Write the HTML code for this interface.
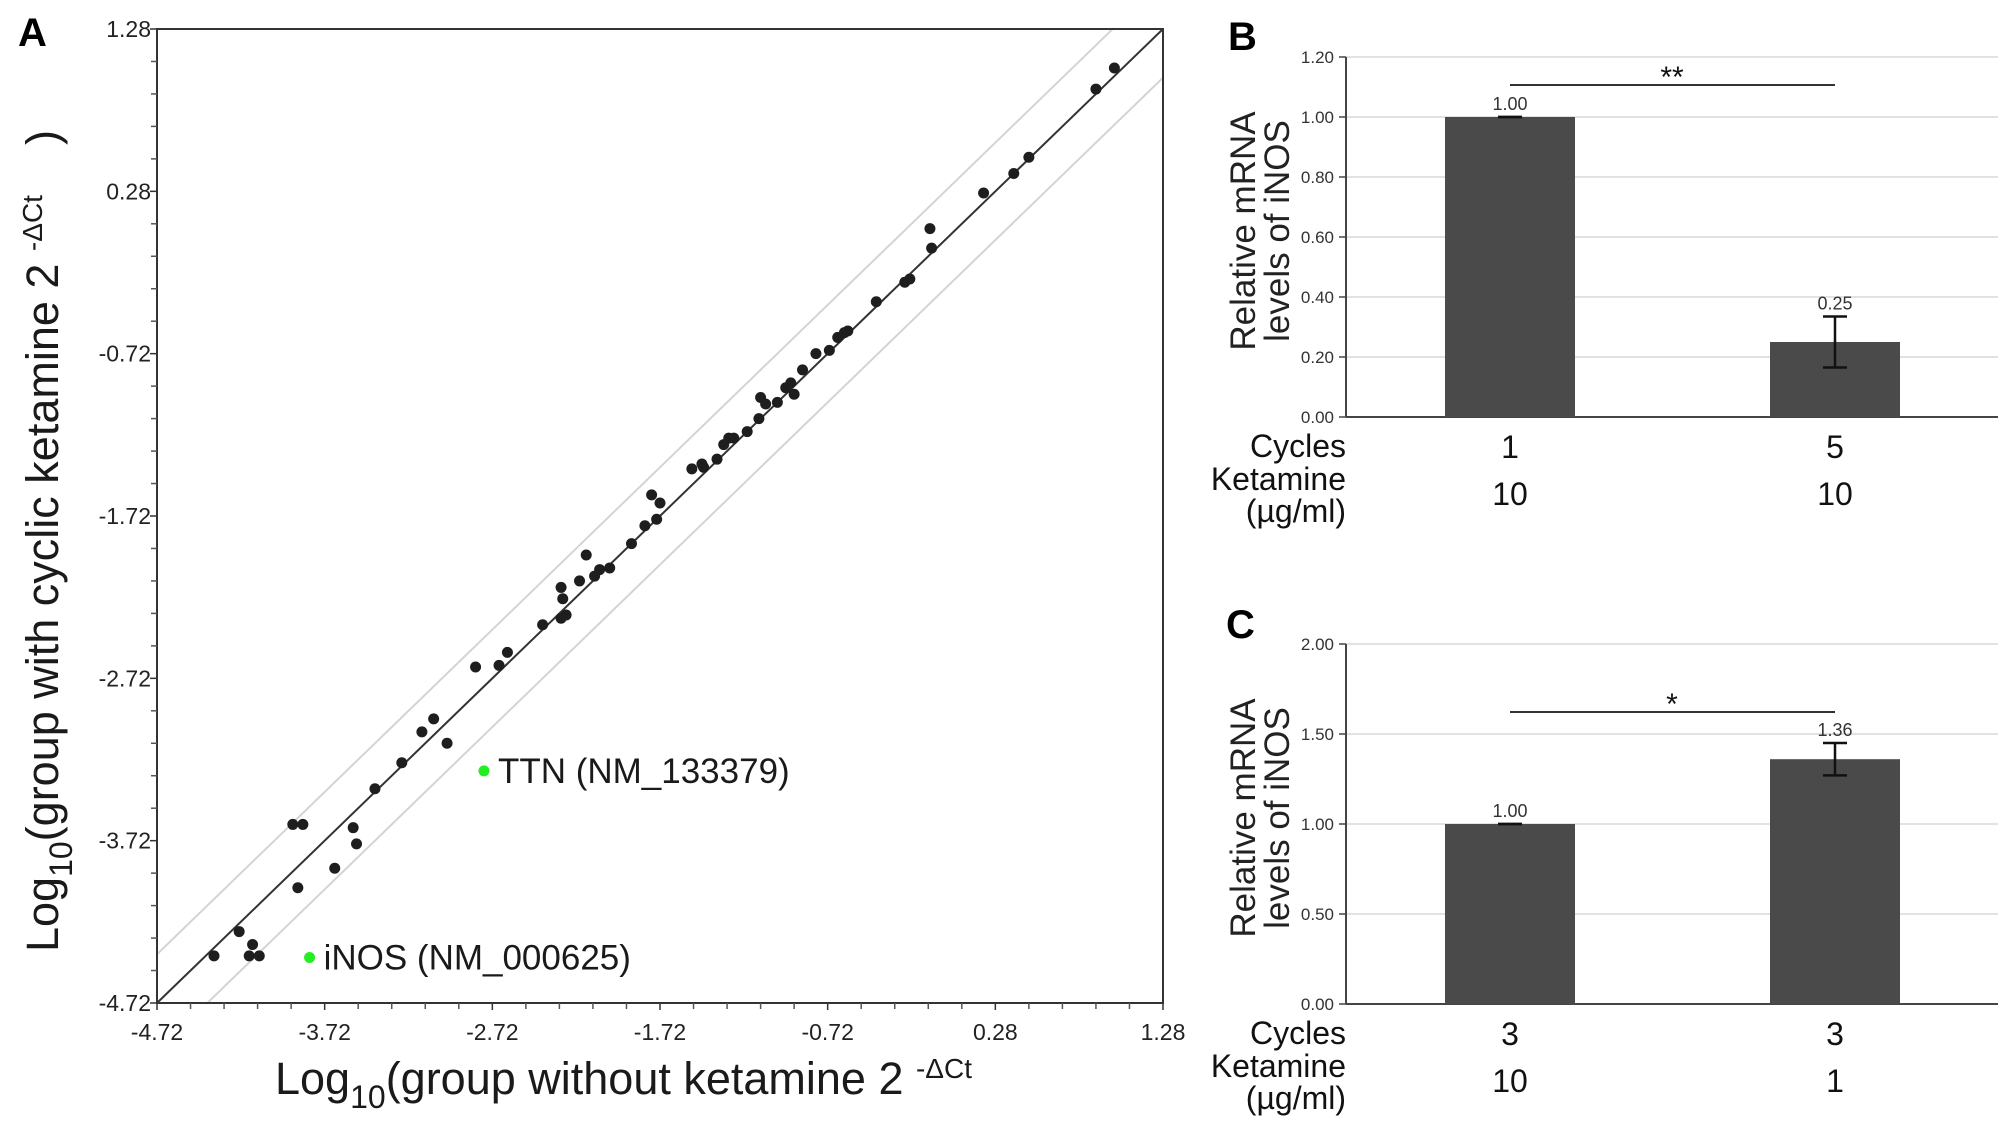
<!DOCTYPE html>
<html><head><meta charset="utf-8"><style>
body{margin:0;background:#fff;}
svg{display:block;font-family:"Liberation Sans",Arial,sans-serif;}
</style></head><body>
<svg id="fig" width="2008" height="1124" viewBox="0 0 2008 1124"></svg>
<script>
// Panel A data
const scatterX = [-4.38,-4.23,-4.15,-4.17,-4.11,-3.88,-3.91,-3.85,-3.66,-3.55,-3.53,-3.42,-3.26,-3.14,-3.07,-2.99,-2.82,-2.68,-2.63,-2.42,-2.31,-2.31,-2.30,-2.28,-2.20,-2.16,-2.11,-2.08,-2.02,-1.89,-1.81,-1.77,-1.74,-1.72,-1.53,-1.47,-1.46,-1.38,-1.34,-1.31,-1.28,-1.20,-1.13,-1.12,-1.09,-1.02,-0.97,-0.94,-0.92,-0.87,-0.79,-0.71,-0.66,-0.62,-0.60,-0.43,-0.26,-0.23,-0.11,-0.10,0.21,0.39,0.48,0.88,0.99];
const scatterY = [-4.43,-4.28,-4.36,-4.43,-4.43,-4.01,-3.62,-3.62,-3.89,-3.64,-3.74,-3.40,-3.24,-3.05,-2.97,-3.12,-2.65,-2.64,-2.56,-2.39,-2.35,-2.16,-2.23,-2.33,-2.12,-1.96,-2.09,-2.05,-2.04,-1.89,-1.78,-1.59,-1.74,-1.64,-1.43,-1.40,-1.42,-1.37,-1.28,-1.24,-1.24,-1.20,-1.12,-0.99,-1.03,-1.02,-0.93,-0.90,-0.97,-0.82,-0.72,-0.70,-0.62,-0.59,-0.58,-0.40,-0.28,-0.26,0.05,-0.07,0.27,0.39,0.49,0.91,1.04];
const highlightNames = ["TTN (NM_133379)","iNOS (NM_000625)"];
const highlightX = [-2.77,-3.81];
const highlightY = [-3.29,-4.44];
const axisTicks = ["-4.72","-3.72","-2.72","-1.72","-0.72","0.28","1.28"];
const foldBand = [0.3,-0.3];
// Panel B/C data
const barCategoriesB = ["1","5"];
const barKetB = ["10","10"];
const barValuesB = [1.00,0.25];
const barErrB = [0.0,0.085];
const barTicksB = ["0.00","0.20","0.40","0.60","0.80","1.00","1.20"];
const barCategoriesC = ["3","3"];
const barKetC = ["10","1"];
const barValuesC = [1.00,1.36];
const barErrC = [0.0,0.09];
const barTicksC = ["0.00","0.50","1.00","1.50","2.00"];

const NS="http://www.w3.org/2000/svg";
const svg=document.getElementById('fig');
function mk(tag,attrs,parent,text){const e=document.createElementNS(NS,tag);for(const k in attrs)e.setAttribute(k,attrs[k]);if(text!==undefined)e.textContent=text;(parent||svg).appendChild(e);return e;}

// ---------- Panel A ----------
const AX0=157,AX1=1163,AY0=1003,AY1=29,MIN=-4.72,MAX=1.28;
const sx=v=>AX0+(v-MIN)/(MAX-MIN)*(AX1-AX0);
const sy=v=>AY0-(v-MIN)/(MAX-MIN)*(AY0-AY1);
let t=mk('text',{x:18,y:46,'font-size':40,'font-weight':'bold'},svg,'A');


const gA=mk('g',{});


mk('clipPath',{id:'clipA'},gA);
mk('rect',{x:AX0,y:AY1,width:AX1-AX0,height:AY0-AY1},document.getElementById('clipA'));
foldBand.forEach((o,i)=>{
  const l=mk('line',{x1:sx(MIN),y1:sy(MIN+o),x2:sx(MAX),y2:sy(MAX+o),stroke:'#d4d4d4','stroke-width':2,'clip-path':'url(#clipA)'},gA);
  
  
});
let d=mk('line',{x1:sx(MIN),y1:sy(MIN),x2:sx(MAX),y2:sy(MAX),stroke:'#333','stroke-width':2},gA);


let fr=mk('rect',{x:AX0,y:AY1,width:AX1-AX0,height:AY0-AY1,fill:'none',stroke:'#333','stroke-width':2},gA);


axisTicks.forEach((lab,i)=>{
  const v=parseFloat(lab);
  mk('line',{x1:sx(v),y1:AY0,x2:sx(v),y2:AY0+7,stroke:'#333','stroke-width':1.5},gA);
  const tx=mk('text',{x:sx(v),y:AY0+37,'font-size':23,'text-anchor':'middle',fill:'#222'},gA,lab);
  
  
  mk('line',{x1:AX0,y1:sy(v),x2:AX0-7,y2:sy(v),stroke:'#333','stroke-width':1.5},gA);
  const ty=mk('text',{x:AX0-6,y:sy(v)+8,'font-size':23,'text-anchor':'end',fill:'#222'},gA,lab);
  
  
  if(i<axisTicks.length-1){for(let k=1;k<5;k++){const m=v+k*0.2;
    mk('line',{x1:sx(m),y1:AY0,x2:sx(m),y2:AY0+6,stroke:'#555','stroke-width':1.5},gA);
    mk('line',{x1:AX0,y1:sy(m),x2:AX0-6,y2:sy(m),stroke:'#555','stroke-width':1.5},gA);}}
});
scatterX.forEach((x,i)=>{
  const c=mk('circle',{cx:sx(x),cy:sy(scatterY[i]),r:5.5,fill:'#1e1e1e'},gA);
  
  
});
highlightX.forEach((x,i)=>{
  const c=mk('circle',{cx:sx(x),cy:sy(highlightY[i]),r:5.5,fill:'#22ee22'},gA);
  
  
  const l=mk('text',{x:sx(x)+14,y:sy(highlightY[i])+12,'font-size':35,fill:'#1a1a1a'},gA,highlightNames[i]);
  
  
});
let xt=mk('text',{x:275,y:1094,'font-size':45,fill:'#1a1a1a'},svg);


xt.innerHTML='Log<tspan font-size="32" dy="14">10</tspan><tspan dy="-14">(group without ketamine 2 </tspan><tspan font-size="28" dy="-16">-ΔCt</tspan>';
let yt=mk('text',{x:0,y:0,'font-size':45,fill:'#1a1a1a',transform:'translate(58,952) rotate(-90)'},svg);


yt.innerHTML='Log<tspan font-size="32" dy="14">10</tspan><tspan dy="-14">(group with cyclic ketamine 2 </tspan><tspan font-size="28" dy="-16">-ΔCt</tspan><tspan dy="16" xml:space="preserve">    )</tspan>';

// ---------- Bar panels ----------
function barPanel(o){
  const g=mk('g',{});
  
  
  const L=1346,R=1998,B=o.y0,T=o.y1;
  const ys=v=>B-v/o.max*(B-T);
  const lb=mk('text',{x:o.lx,y:o.ly,'font-size':40,'font-weight':'bold'},g,o.label);
  
  
  o.ticks.forEach(tk=>{const v=parseFloat(tk);
    if(v>0){const gl=mk('line',{x1:L,y1:ys(v),x2:R,y2:ys(v),stroke:'#d8d8d8','stroke-width':1.5},g);
      
      }
    mk('line',{x1:L-7,y1:ys(v),x2:L,y2:ys(v),stroke:'#444','stroke-width':1.5},g);
    const tl=mk('text',{x:L-12,y:ys(v)+6,'font-size':17,'text-anchor':'end',fill:'#333'},g,tk);
    
    
  });
  mk('line',{x1:L,y1:T,x2:L,y2:B,stroke:'#444','stroke-width':2},g);
  mk('line',{x1:L,y1:B,x2:R,y2:B,stroke:'#444','stroke-width':2},g);
  const cx=[1510,1835];
  o.vals.forEach((v,i)=>{
    const r=mk('rect',{x:cx[i]-65,y:ys(v),width:130,height:B-ys(v),fill:'#4a4a4a'},g);
    
    
    const e=o.err[i];
    mk('line',{x1:cx[i],y1:ys(v+e),x2:cx[i],y2:ys(v-e),stroke:'#111','stroke-width':2.5},g);
    mk('line',{x1:cx[i]-12,y1:ys(v+e),x2:cx[i]+12,y2:ys(v+e),stroke:'#111','stroke-width':2.5},g);
    mk('line',{x1:cx[i]-12,y1:ys(v-e),x2:cx[i]+12,y2:ys(v-e),stroke:'#111','stroke-width':2.5},g);
    const vl=mk('text',{x:cx[i],y:ys(v+e)-7,'font-size':18,'text-anchor':'middle',fill:'#333'},g,v.toFixed(2));
    
    
    const c1=mk('text',{x:cx[i],y:B+41,'font-size':32,'text-anchor':'middle',fill:'#111'},g,o.cats[i]);
    
    
    const c2=mk('text',{x:cx[i],y:B+88,'font-size':32,'text-anchor':'middle',fill:'#111'},g,o.kets[i]);
    
    
  });
  [['Cycles',40],['Ketamine',73],['(µg/ml)',105]].forEach(a=>{
    const tt=mk('text',{x:L,y:B+a[1],'font-size':32,'text-anchor':'end',fill:'#111'},g,a[0]);
    
    
  });
  const br=mk('line',{x1:1510,y1:o.brY,x2:1835,y2:o.brY,stroke:'#333','stroke-width':2},g);
  
  
  const st=mk('text',{x:1672,y:o.brY+2,'font-size':30,'text-anchor':'middle',fill:'#111'},g,o.sig);
  
  
  const cy=(T+B)/2-6;
  const yt=mk('text',{x:0,y:0,'font-size':35,'text-anchor':'middle',fill:'#222',transform:`translate(1255,${cy}) rotate(-90)`},g,'Relative mRNA');
  
  
  mk('text',{x:0,y:34,'font-size':35,'text-anchor':'middle',fill:'#222',transform:`translate(1255,${cy}) rotate(-90)`},g,'levels of iNOS');
}
barPanel({name:'panel-b-bar-chart',label:'B',lx:1228,ly:50,y0:417,y1:57,max:1.2,ticks:barTicksB,vals:barValuesB,err:barErrB,cats:barCategoriesB,kets:barKetB,brY:85,sig:'**'});
barPanel({name:'panel-c-bar-chart',label:'C',lx:1226,ly:638,y0:1004,y1:644,max:2.0,ticks:barTicksC,vals:barValuesC,err:barErrC,cats:barCategoriesC,kets:barKetC,brY:712,sig:'*'});
</script>
</body></html>
